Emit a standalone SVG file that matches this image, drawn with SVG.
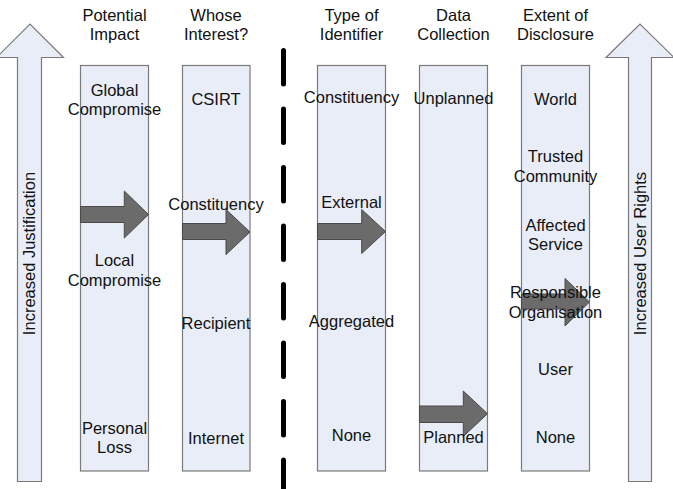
<svg xmlns="http://www.w3.org/2000/svg" width="673" height="489" viewBox="0 0 673 489">
<style>
text{font-family:"Liberation Sans",Arial,sans-serif;font-size:16.5px;fill:#111;text-anchor:middle}
.col{fill:#e9edf8;stroke:#7a7a7a;stroke-width:1.2}
.big{fill:#e9edf8;stroke:#7a7a7a;stroke-width:1.2}
.ga{fill:#6b6b6b;stroke:#4a4a4a;stroke-width:1}
</style>
<rect width="673" height="489" fill="#fff"/>
<g id="left-arrow">
<polygon class="big" points="17.5,481.5 17.5,57.5 -3.5,57.5 30,24 63.5,57.5 41.5,57.5 41.5,481.5"/>
<text transform="translate(35,253.5) rotate(-90)">Increased Justification</text>
</g>
<g id="right-arrow">
<polygon class="big" points="628.5,481.5 628.5,57.5 606,57.5 640,24 674,57.5 651.5,57.5 651.5,481.5"/>
<text transform="translate(646,253.5) rotate(-90)">Increased User Rights</text>
</g>
<g id="divider">
<line x1="283.5" y1="50.5" x2="283.5" y2="495" stroke="#000" stroke-width="5" stroke-linecap="round" stroke-dasharray="33.5 25"/>
</g>
<g id="col-impact">
<rect class="col" x="80.5" y="65.5" width="68" height="405.5"/>
<text x="114.5" y="21">Potential</text><text x="114.5" y="40">Impact</text>
</g>
<g id="col-interest">
<rect class="col" x="182.5" y="65.5" width="67.5" height="405.5"/>
<text x="216" y="21">Whose</text><text x="216" y="40">Interest?</text>
</g>
<g id="col-identifier">
<rect class="col" x="317.5" y="65.5" width="68" height="405.5"/>
<text x="351.5" y="21">Type of</text><text x="351.5" y="40">Identifier</text>
</g>
<g id="col-collection">
<rect class="col" x="419.5" y="65.5" width="68" height="405.5"/>
<text x="453.5" y="21">Data</text><text x="453.5" y="40">Collection</text>
</g>
<g id="col-disclosure">
<rect class="col" x="521.5" y="65.5" width="68" height="405.5"/>
<text x="555.5" y="21">Extent of</text><text x="555.5" y="40">Disclosure</text>
</g>
<g id="connectors">
<polygon class="ga" points="80.5,206.5 124.3,206.5 124.3,191 148.5,214.5 124.3,238 124.3,222.5 80.5,222.5"/>
<polygon class="ga" points="182.5,223.5 226,223.5 226,209.5 250,232 226,254.5 226,239.5 182.5,239.5"/>
<polygon class="ga" points="317.5,223.5 361.7,223.5 361.7,209.5 385.5,231.5 361.7,253.5 361.7,239.5 317.5,239.5"/>
<polygon class="ga" points="419.5,406 463.3,406 463.3,391 487.5,413.7 463.3,436.5 463.3,422.5 419.5,422.5"/>
<polygon class="ga" points="521.5,294 565,294 565,278.5 589.5,302 565,326 565,309 521.5,309"/>
</g>
<g id="labels-impact">
<text x="114.5" y="96">Global</text><text x="114.5" y="115">Compromise</text>
<text x="114.5" y="266">Local</text><text x="114.5" y="285.5">Compromise</text>
<text x="114.5" y="433.5">Personal</text><text x="114.5" y="453">Loss</text>
</g>
<g id="labels-interest">
<text x="216" y="105">CSIRT</text>
<text x="216" y="209.5">Constituency</text>
<text x="216" y="329">Recipient</text>
<text x="216" y="443.5">Internet</text>
</g>
<g id="labels-identifier">
<text x="351.5" y="102.7">Constituency</text>
<text x="351.5" y="207.7">External</text>
<text x="351.5" y="327.3">Aggregated</text>
<text x="351.5" y="441">None</text>
</g>
<g id="labels-collection">
<text x="453.5" y="104.3">Unplanned</text>
<text x="453.5" y="442.7">Planned</text>
</g>
<g id="labels-disclosure">
<text x="555.5" y="105">World</text>
<text x="555.5" y="162.3">Trusted</text><text x="555.5" y="181.7">Community</text>
<text x="555.5" y="230.7">Affected</text><text x="555.5" y="250">Service</text>
<text x="555.5" y="298">Responsible</text><text x="555.5" y="317.7">Organisation</text>
<text x="555.5" y="375">User</text>
<text x="555.5" y="442.7">None</text>
</g>
</svg>
